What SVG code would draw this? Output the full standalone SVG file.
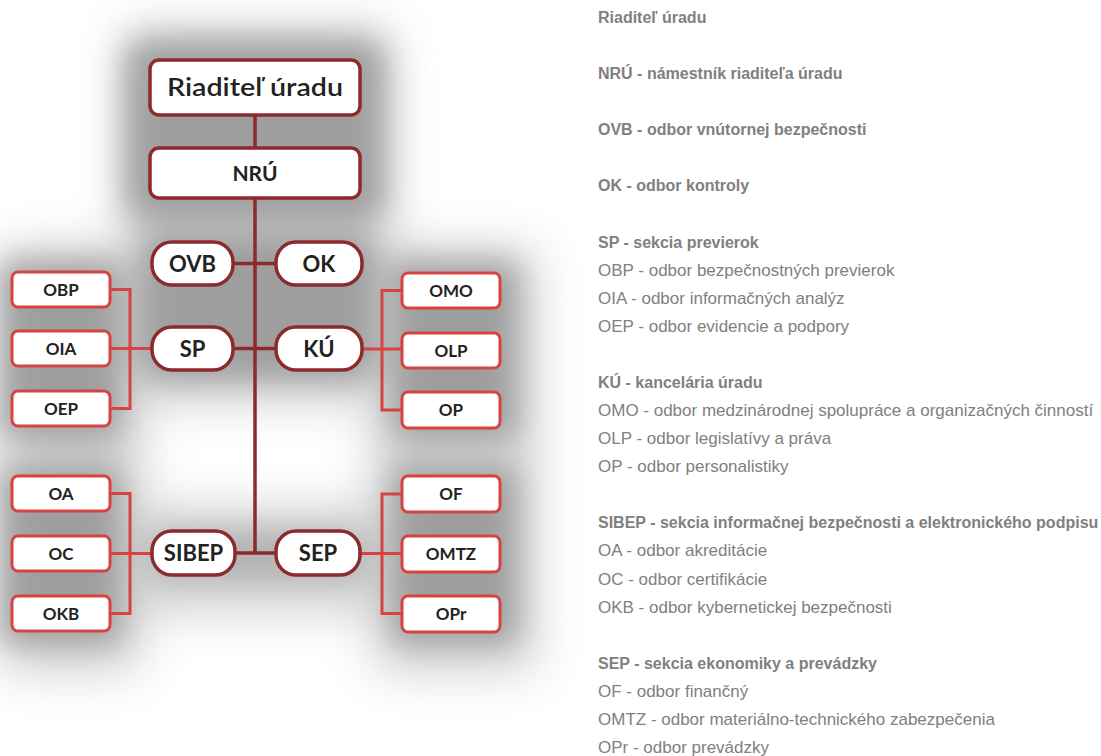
<svg xmlns="http://www.w3.org/2000/svg" width="1101" height="756" viewBox="0 0 1101 756">
<defs>
<filter id="blur" filterUnits="userSpaceOnUse" x="-100" y="-100" width="800" height="960"><feGaussianBlur stdDeviation="15"/></filter>
<filter id="blur2" filterUnits="userSpaceOnUse" x="-100" y="-100" width="800" height="960"><feGaussianBlur stdDeviation="25"/></filter>
<style>
.main{fill:#fff;stroke:#8c2a2c;stroke-width:3.5}
.sub{fill:#fff;stroke:#d84242;stroke-width:3}
.lm{fill:none;stroke:#8c2a2c;stroke-width:3.5}
.ls{fill:none;stroke:#d84242;stroke-width:3}
.t{font-family:Lato,"Liberation Sans",sans-serif;font-weight:700;fill:#222;text-anchor:middle}
.big{font-size:24px;font-weight:600}
.pill{font-size:22px}
.nru{font-size:21px}
.sm{font-size:17px}
.r{font-family:"Liberation Sans",Arial,sans-serif;font-size:17px;fill:#808080}
.b{font-weight:700;font-size:16px}
</style>
</defs>
<rect width="1101" height="756" fill="#fff"/>
<g id="shadow">
<g filter="url(#blur2)" fill="#cfcfcf">
<rect x="0" y="250" width="140" height="420"/>
<rect x="375" y="250" width="160" height="420"/>
<rect x="125" y="30" width="265" height="370"/>
<rect x="130" y="510" width="250" height="100"/>
</g>
<g filter="url(#blur)" fill="#8a8a8a" opacity="0.7">
<rect x="125" y="40" width="260" height="180" rx="20"/>
<rect x="140" y="235" width="235" height="145" rx="20"/>
<rect x="0" y="262" width="120" height="175"/>
<rect x="392" y="262" width="125" height="175"/>
<rect x="0" y="468" width="120" height="175"/>
<rect x="392" y="468" width="125" height="175"/>
<rect x="150" y="530" width="215" height="50" rx="20" opacity="0.6"/>
</g>
</g>
<g id="connectors">
<path class="lm" d="M255 115V148M255 198V553M233 263.5H276M233 348.5H276M235 553H276"/>
<path class="ls" d="M110 289.5H130V408.5H110M110 348.5H152"/>
<path class="ls" d="M402 290.5H382V410H402M362 349H402"/>
<path class="ls" d="M110 493.5H130V613.5H110M110 553.5H152"/>
<path class="ls" d="M402 494H382V613.5H402M360 553.5H402"/>
</g>
<g id="riaditel"><rect class="main" x="150" y="60" width="210" height="55" rx="9"/><text class="t big" x="255" y="96" textLength="176" lengthAdjust="spacingAndGlyphs">Riaditeľ úradu</text></g>
<g id="nru"><rect class="main" x="150" y="148" width="210" height="50" rx="9"/><text class="t nru" x="255" y="181">NRÚ</text></g>
<g id="ovb"><rect class="main" x="152" y="242" width="81" height="43" rx="20"/><text class="t pill" x="192.5" y="271.5">OVB</text></g>
<g id="ok"><rect class="main" x="276" y="242" width="86" height="43" rx="20"/><text class="t pill" x="319" y="271.5">OK</text></g>
<g id="sp"><rect class="main" x="152" y="327" width="81" height="43" rx="20"/><text class="t pill" x="192.5" y="356.5">SP</text></g>
<g id="ku"><rect class="main" x="276" y="327" width="86" height="43" rx="20"/><text class="t pill" x="319" y="356.5">KÚ</text></g>
<g id="sibep"><rect class="main" x="152" y="531" width="83" height="44" rx="20"/><text class="t pill" x="193.5" y="561">SIBEP</text></g>
<g id="sep"><rect class="main" x="276" y="531" width="84" height="44" rx="20"/><text class="t pill" x="318" y="561">SEP</text></g>
<g id="obp"><rect class="sub" x="12" y="272" width="98" height="35" rx="6"/><text class="t sm" x="61" y="295.5">OBP</text></g>
<g id="oia"><rect class="sub" x="12" y="331" width="98" height="35" rx="6"/><text class="t sm" x="61" y="354.5">OIA</text></g>
<g id="oep"><rect class="sub" x="12" y="391" width="98" height="35" rx="6"/><text class="t sm" x="61" y="414.5">OEP</text></g>
<g id="omo"><rect class="sub" x="402" y="273" width="98" height="35" rx="6"/><text class="t sm" x="451" y="296.5">OMO</text></g>
<g id="olp"><rect class="sub" x="402" y="333" width="98" height="35" rx="6"/><text class="t sm" x="451" y="356.5">OLP</text></g>
<g id="op"><rect class="sub" x="402" y="392" width="98" height="36" rx="6"/><text class="t sm" x="451" y="416">OP</text></g>
<g id="oa"><rect class="sub" x="12" y="476" width="98" height="35" rx="6"/><text class="t sm" x="61" y="499.5">OA</text></g>
<g id="oc"><rect class="sub" x="12" y="536" width="98" height="35" rx="6"/><text class="t sm" x="61" y="559.5">OC</text></g>
<g id="okb"><rect class="sub" x="12" y="596" width="98" height="35" rx="6"/><text class="t sm" x="61" y="619.5">OKB</text></g>
<g id="of"><rect class="sub" x="402" y="476" width="98" height="36" rx="6"/><text class="t sm" x="451" y="500">OF</text></g>
<g id="omtz"><rect class="sub" x="402" y="536" width="98" height="36" rx="6"/><text class="t sm" x="451" y="560">OMTZ</text></g>
<g id="opr"><rect class="sub" x="402" y="596" width="98" height="36" rx="6"/><text class="t sm" x="451" y="620">OPr</text></g>
<g id="legend">
<text class="r b" x="598" y="23">Riaditeľ úradu</text>
<text class="r b" x="598" y="79">NRÚ - námestník riaditeľa úradu</text>
<text class="r b" x="598" y="135">OVB - odbor vnútornej bezpečnosti</text>
<text class="r b" x="598" y="191">OK - odbor kontroly</text>
<text class="r b" x="598" y="247.5">SP - sekcia previerok</text>
<text class="r" x="598" y="275.5">OBP - odbor bezpečnostných previerok</text>
<text class="r" x="598" y="303.5">OIA - odbor informačných analýz</text>
<text class="r" x="598" y="331.5">OEP - odbor evidencie a podpory</text>
<text class="r b" x="598" y="388">KÚ - kancelária úradu</text>
<text class="r" x="598" y="416">OMO - odbor medzinárodnej spolupráce a organizačných činností</text>
<text class="r" x="598" y="444">OLP - odbor legislatívy a práva</text>
<text class="r" x="598" y="472">OP - odbor personalistiky</text>
<text class="r b" x="598" y="528">SIBEP - sekcia informačnej bezpečnosti a elektronického podpisu</text>
<text class="r" x="598" y="556">OA - odbor akreditácie</text>
<text class="r" x="598" y="584.5">OC - odbor certifikácie</text>
<text class="r" x="598" y="612.5">OKB - odbor kybernetickej bezpečnosti</text>
<text class="r b" x="598" y="668.5">SEP - sekcia ekonomiky a prevádzky</text>
<text class="r" x="598" y="696.5">OF - odbor finančný</text>
<text class="r" x="598" y="724.5">OMTZ - odbor materiálno-technického zabezpečenia</text>
<text class="r" x="598" y="752.5">OPr - odbor prevádzky</text>
</g>
</svg>
